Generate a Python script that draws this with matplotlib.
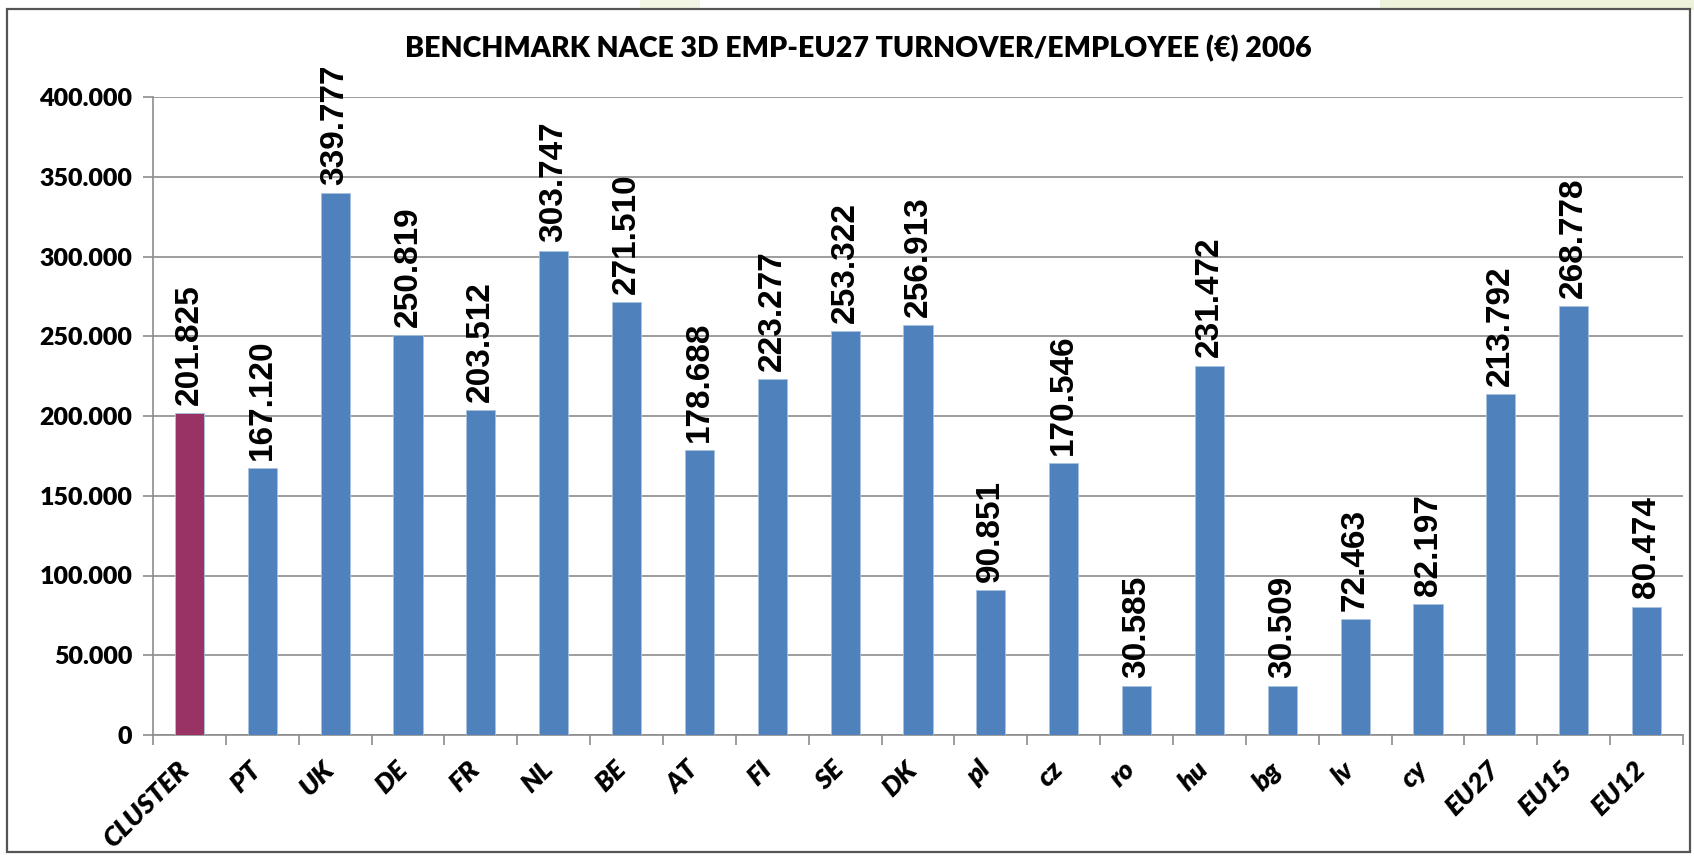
import matplotlib
matplotlib.use("Agg")
import matplotlib.pyplot as plt
from matplotlib.patches import Rectangle
from matplotlib.ticker import FixedLocator, FuncFormatter
from matplotlib.transforms import ScaledTranslation

categories = ["CLUSTER", "PT", "UK", "DE", "FR", "NL", "BE", "AT", "FI", "SE", "DK",
              "pl", "cz", "ro", "hu", "bg", "lv", "cy", "EU27", "EU15", "EU12"]
values = [201825, 167120, 339777, 250819, 203512, 303747, 271510, 178688, 223277,
          253322, 256913, 90851, 170546, 30585, 231472, 30509, 72463, 82197,
          213792, 268778, 80474]
yticks = [0, 50000, 100000, 150000, 200000, 250000, 300000, 350000, 400000]
title = "BENCHMARK NACE 3D EMP-EU27 TURNOVER/EMPLOYEE (€) 2006"

plt.rcParams["font.family"] = ["Lato", "DejaVu Sans"]
plt.rcParams["font.weight"] = "heavy"

W, H = 1694, 856
fig = plt.figure(figsize=(W / 100, H / 100), dpi=100)
fig.patch.set_facecolor("white")

# faint background glows above the chart frame
fig.patches.append(Rectangle((1380 / W, 1 - 10 / H), 314 / W, 10 / H, transform=fig.transFigure,
                             facecolor="#EDF3DA", edgecolor="none", zorder=0))
fig.patches.append(Rectangle((640 / W, 1 - 10 / H), 60 / W, 10 / H, transform=fig.transFigure,
                             facecolor="#F1F6E4", edgecolor="none", zorder=0))
# chart frame
fig.patches.append(Rectangle((7 / W, 4 / H), 1683 / W, 843 / H,
                             transform=fig.transFigure, facecolor="white",
                             edgecolor="#555555", linewidth=1.6, zorder=1))

left, right, top, bottom = 153, 1683, 97, 735
ax = fig.add_axes([left / W, 1 - bottom / H, (right - left) / W, (bottom - top) / H])
ax.set_zorder(2)
ax.set_facecolor("none")

x = list(range(len(categories)))
colors = ["#993366"] + ["#4F81BD"] * (len(categories) - 1)
ax.bar(x, values, width=0.4, color=colors, edgecolor="#A9C2E0", linewidth=0.6, zorder=3)

ax.set_xlim(-0.5, len(categories) - 0.5)
ax.set_ylim(0, 400000)

ax.yaxis.set_major_locator(FixedLocator(yticks))
ax.yaxis.set_major_formatter(FuncFormatter(lambda v, p: f"{int(v):,}".replace(",", ".")))
ax.grid(axis="y", color="#8C8C8C", linewidth=1.2, zorder=0)
ax.set_axisbelow(True)

for s in ["top", "right"]:
    ax.spines[s].set_visible(False)
for s in ["left", "bottom"]:
    ax.spines[s].set_color("#8C8C8C")
    ax.spines[s].set_linewidth(1.2)

ax.tick_params(axis="y", length=7, width=1.2, color="#8C8C8C", pad=8, labelsize=18)

# x ticks at category boundaries, labels at centers
ax.set_xticks([i - 0.5 for i in range(len(categories) + 1)])
ax.set_xticklabels([])
ax.tick_params(axis="x", length=7, width=1.2, color="#8C8C8C")
ax.set_xticks(x, minor=True)
ax.set_xticklabels(categories, minor=True, rotation=45, ha="right", va="center",
                   rotation_mode="anchor", fontsize=19.5, fontstyle="italic")
ax.tick_params(axis="x", which="minor", length=0, pad=22)
shift = ScaledTranslation(-5 / 100, 0, fig.dpi_scale_trans)
for lab in ax.get_xticklabels(minor=True):
    lab.set_transform(lab.get_transform() + shift)

for xi, v in zip(x, values):
    ax.annotate(f"{v:,}".replace(",", "."), (xi, v), xytext=(0, 6), textcoords="offset points",
                rotation=90, ha="center", va="bottom", family="Liberation Sans",
                weight="bold", fontsize=24, color="black", zorder=4)

fig.text(858 / W, 1 - 49 / H, title, ha="center", va="center", fontsize=20.5, weight="heavy")

fig.savefig("out.png", dpi=100, facecolor="white")
